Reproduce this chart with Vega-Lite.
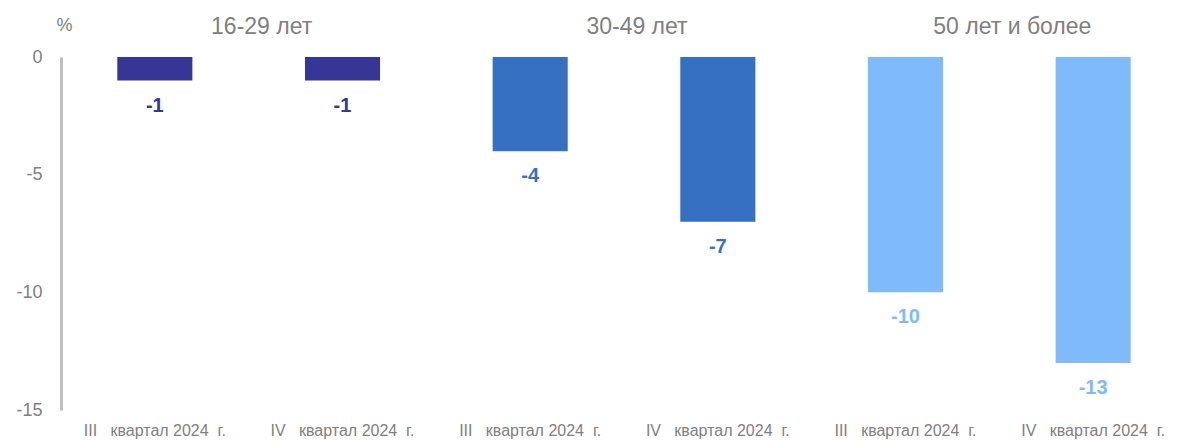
{
  "$schema": "https://vega.github.io/schema/vega-lite/v6.json",
  "width": 1126,
  "height": 353,
  "autosize": {"type": "none"},
  "padding": {"left": 61, "top": 57, "right": 0, "bottom": 30},
  "background": "white",
  "config": {"view": {"stroke": null}, "font": "Liberation Sans"},
  "datasets": {
    "bars": [
      {"cat": "III\u00a0\u00a0 квартал 2024\u00a0 г.|16-29 лет", "group": "16-29 лет", "value": -1},
      {"cat": "IV\u00a0\u00a0 квартал 2024\u00a0 г.|16-29 лет", "group": "16-29 лет", "value": -1},
      {"cat": "III\u00a0\u00a0 квартал 2024\u00a0 г.|30-49 лет", "group": "30-49 лет", "value": -4},
      {"cat": "IV\u00a0\u00a0 квартал 2024\u00a0 г.|30-49 лет", "group": "30-49 лет", "value": -7},
      {"cat": "III\u00a0\u00a0 квартал 2024\u00a0 г.|50 лет и более", "group": "50 лет и более", "value": -10},
      {"cat": "IV\u00a0\u00a0 квартал 2024\u00a0 г.|50 лет и более", "group": "50 лет и более", "value": -13}
    ],
    "groups": [
      {"cat": "III\u00a0\u00a0 квартал 2024\u00a0 г.|16-29 лет", "group": "16-29 лет"},
      {"cat": "III\u00a0\u00a0 квартал 2024\u00a0 г.|30-49 лет", "group": "30-49 лет"},
      {"cat": "III\u00a0\u00a0 квартал 2024\u00a0 г.|50 лет и более", "group": "50 лет и более"}
    ]
  },
  "layer": [
    {
      "data": {"name": "bars"},
      "mark": {"type": "bar"},
      "encoding": {
        "x": {
          "field": "cat", "type": "nominal", "sort": null,
          "scale": {"paddingInner": 0.6, "paddingOuter": 0.3},
          "axis": {
            "title": null, "domain": false, "ticks": false, "labelAngle": 0,
            "labelPadding": 12, "labelFontSize": 16, "labelColor": "#808080",
            "labelExpr": "split(datum.value, '|')[0]", "labelOverlap": false, "labelLimit": 0
          }
        },
        "y": {
          "field": "value", "type": "quantitative",
          "scale": {"domain": [-15, 0], "nice": false, "zero": false},
          "axis": {
            "values": [0, -5, -10, -15], "grid": false, "ticks": false,
            "domain": true, "domainColor": "#BFBFBF", "domainWidth": 3,
            "labelPadding": 19, "labelFontSize": 18, "labelColor": "#808080",
            "labelExpr": "'' + datum.value",
            "title": "%", "titleAngle": 0, "titleX": 3, "titleY": -32,
            "titleAlign": "center", "titleBaseline": "middle",
            "titleFontSize": 18, "titleFontWeight": "normal", "titleColor": "#808080"
          }
        },
        "color": {
          "field": "group", "type": "nominal",
          "scale": {"domain": ["16-29 лет", "30-49 лет", "50 лет и более"], "range": ["#363696", "#3570C2", "#7FBBFB"]},
          "legend": null
        }
      }
    },
    {
      "data": {"name": "bars"},
      "mark": {"type": "text", "fontWeight": "bold", "fontSize": 20, "baseline": "middle", "dy": 25},
      "encoding": {
        "x": {"field": "cat", "type": "nominal", "sort": null},
        "y": {"field": "value", "type": "quantitative"},
        "text": {"field": "value", "type": "nominal"},
        "color": {"field": "group", "type": "nominal", "legend": null}
      }
    },
    {
      "mark": {"type": "rule", "color": "#BFBFBF", "strokeWidth": 3},
      "encoding": {"y": {"datum": 0}}
    },
    {
      "data": {"name": "groups"},
      "mark": {"type": "text", "fontSize": 23, "color": "#808080", "baseline": "middle", "align": "center", "dx": 13},
      "encoding": {
        "x": {"field": "cat", "type": "nominal", "sort": null, "bandPosition": 1.75},
        "y": {"datum": 1.28},
        "text": {"field": "group", "type": "nominal"}
      }
    }
  ]
}
